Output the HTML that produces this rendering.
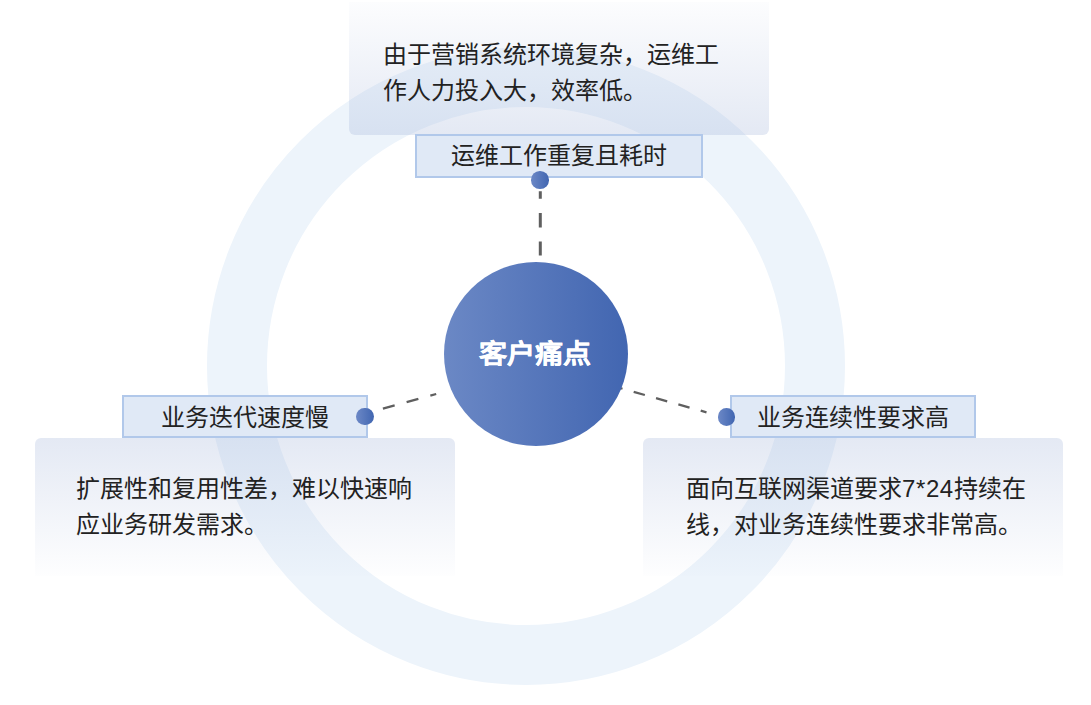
<!DOCTYPE html>
<html lang="zh-CN"><head><meta charset="utf-8">
<style>
html,body{margin:0;padding:0;background:#fff;}
body{width:1091px;height:705px;position:relative;overflow:hidden;font-family:"Liberation Sans",sans-serif;color:#222;}
.abs{position:absolute;}
svg.bg{position:absolute;left:0;top:0;}
.card{position:absolute;width:420px;border-radius:6px;}
.card.top{left:349px;top:2px;height:133px;border-radius:0 0 6px 6px;background:linear-gradient(to bottom,rgba(165,182,218,0.03) 0%,rgba(165,182,218,0.3) 100%);}
.card.bl{left:35px;top:438px;height:138px;border-radius:6px 6px 0 0;background:linear-gradient(to bottom,rgba(165,182,218,0.3) 0%,rgba(165,182,218,0.015) 100%);}
.card.br{left:643px;top:438px;height:138px;border-radius:6px 6px 0 0;background:linear-gradient(to bottom,rgba(165,182,218,0.3) 0%,rgba(165,182,218,0.015) 100%);}
.txt{position:absolute;font-size:24px;line-height:36.5px;white-space:nowrap;color:#222;}
.label{position:absolute;box-sizing:border-box;height:44px;border:2px solid #b1c8ea;background:#e0e9f6;font-size:24px;line-height:41px;text-align:center;white-space:nowrap;color:#222;}
.dot{position:absolute;width:17.6px;height:17.6px;border-radius:50%;background:linear-gradient(to right,#6c88c6,#4166b1);}
.ct{display:inline-block;transform:translate(-1.5px,1.1px) scaleY(0.92);-webkit-text-stroke:0.3px #fff;}
.center{position:absolute;left:444px;top:261.5px;width:184px;height:184px;border-radius:50%;background:linear-gradient(to right,#6b88c5,#4266b1);color:#fff;font-weight:bold;font-size:28px;text-align:center;line-height:184px;}
</style></head><body>
<svg class="bg" width="1091" height="705" viewBox="0 0 1091 705">
  <circle cx="526" cy="366" r="289" fill="none" stroke="#edf4fb" stroke-width="60"/>
</svg>
<div class="card top"></div>
<div class="card bl"></div>
<div class="card br"></div>
<svg class="bg" width="1091" height="705" viewBox="0 0 1091 705">
  <path d="M540.3 191.2V198.8M540.3 213V227.4M540.3 241.4V255.4" stroke="#5f5f5f" stroke-width="3"/>
  <line x1="382.9" y1="408.7" x2="436.2" y2="394" stroke="#5f5f5f" stroke-width="2.3" stroke-dasharray="12.2 12.4"/>
  <line x1="611.35" y1="385.6" x2="706.5" y2="412.3" stroke="#5f5f5f" stroke-width="2.3" stroke-dasharray="11.6 11.6"/>
</svg>
<div class="txt" style="left:382.5px;top:36.5px;">由于营销系统环境复杂，运维工<br>作人力投入大，效率低。</div>
<div class="txt" style="left:76px;top:470.5px;">扩展性和复用性差，难以快速响<br>应业务研发需求。</div>
<div class="txt" style="left:686px;top:470.7px;">面向互联网渠道要求<span style="letter-spacing:0.6px">7*24</span>持续在<br>线，对业务连续性要求非常高。</div>
<div class="label" style="left:415px;top:134px;width:288px;line-height:40px;">运维工作重复且耗时</div>
<div class="label" style="left:122px;top:394.5px;width:246px;height:43.5px;">业务迭代速度慢</div>
<div class="label" style="left:729.5px;top:394.5px;width:246px;height:43.5px;">业务连续性要求高</div>
<div class="dot" style="left:531.1px;top:171.2px;"></div>
<div class="dot" style="left:356.1px;top:407.6px;"></div>
<div class="dot" style="left:717.6px;top:408.3px;"></div>
<div class="center"><span class="ct">客户痛点</span></div>
</body></html>
